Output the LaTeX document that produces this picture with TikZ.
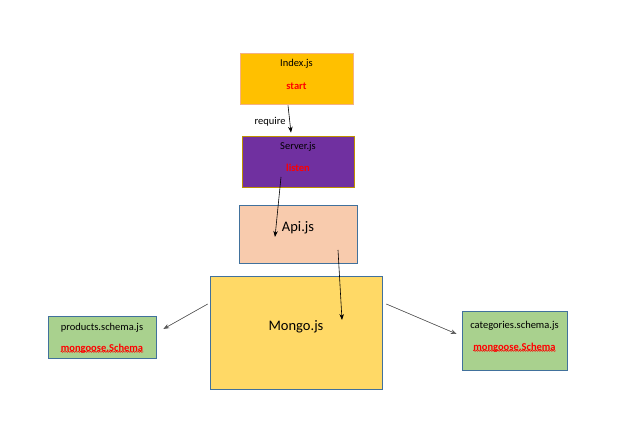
\documentclass[tikz,border=0pt]{standalone}
\usepackage{fontspec}
\setmainfont{Carlito}
\usepackage{tikz}
\usetikzlibrary{arrows.meta,positioning,calc,decorations.pathmorphing}
\definecolor{idxGold}{HTML}{FFC000}
\definecolor{idxEdge}{HTML}{F4B183}
\definecolor{srvPurple}{HTML}{7030A0}
\definecolor{srvEdge}{HTML}{BF9000}
\definecolor{apiPeach}{HTML}{F8CBAD}
\definecolor{mgoYellow}{HTML}{FFD966}
\definecolor{schGreen}{HTML}{A9D18E}
\definecolor{boxBlue}{HTML}{41719C}
\definecolor{txtRed}{HTML}{FF0000}

\begin{document}
\begin{tikzpicture}[
    x=1pt, y=-1pt,
    box/.style={rectangle, draw=boxBlue, line width=0.6pt, inner sep=0pt},
    label/.style={inner sep=0pt, font=\fontsize{10.5}{12}\selectfont},
    role/.style={label, text=txtRed, font=\fontsize{10.5}{12}\selectfont\bfseries},
    big/.style={inner sep=0pt, font=\fontsize{14.5}{17}\selectfont},
    wave/.style={txtRed, line width=0.5pt, decorate, decoration={snake, amplitude=0.6pt, segment length=2.4pt}},
    arrow/.style={-{Stealth[length=6pt,width=4.5pt]}, line width=0.6pt},
    sidearrow/.style={arrow, draw=black!65, fill=black}
]
    \useasboundingbox (0,0) rectangle (619,443);

    \node[box, fill=idxGold, draw=idxEdge, minimum width=113pt, minimum height=51pt] (index) at (296.5,78.5) {};
    \node[label] (indexname) at (296.5,64) {Index.js};
    \node[role] (indexrole) at (296.5,86) {start};

    \node[box, fill=srvPurple, draw=srvEdge, minimum width=112pt, minimum height=51pt] (server) at (298,161.5) {};
    \node[label] (servername) at (298,147) {Server.js};
    \node[role] (serverrole) at (298,168) {listen};

    \node[box, fill=apiPeach, minimum width=118pt, minimum height=58pt] (api) at (298,234) {};
    \node[big] (apiname) at (298,228) {Api.js};

    \node[box, fill=mgoYellow, minimum width=172pt, minimum height=113pt] (mongo) at (296,332.5) {};
    \node[big] (mongoname) at (296,327) {Mongo.js};

    % Schemas
    \node[box, fill=schGreen, minimum width=108pt, minimum height=42pt] (products) at (102,337) {};
    \node[label] (prodname) at (102,328) {products.schema.js};
    \node[role] (prodrole) at (102,349) {mongoose.Schema};
    \draw[wave] ([yshift=2pt]prodrole.south west) -- ([yshift=2pt]prodrole.south east);

    \node[box, fill=schGreen, minimum width=105pt, minimum height=59pt] (categories) at (514.5,340.5) {};
    \node[label] (catname) at (514.5,326) {categories.schema.js};
    \node[role] (catrole) at (514.5,348) {mongoose.Schema};
    \draw[wave] ([yshift=2pt]catrole.south west) -- ([yshift=2pt]catrole.south east);

    \draw[arrow] ([shift={(-8.5,1)}]index.south) -- ([shift={(-7,-3)}]server.north)
        node[pos=0.6, left=4pt, label] {require};
    \draw[arrow] ([shift={(-17,15.5)}]server.center) -- ([shift={(-23,3)}]api.center);
    \draw[arrow] ([shift={(40,16)}]api.center) -- ([shift={(46,-12.5)}]mongo.center);
    \draw[sidearrow] ([shift={(-2,-28.5)}]mongo.west) -- ([shift={(7,-8)}]products.east);
    \draw[sidearrow] ([shift={(4,-28.5)}]mongo.east) -- ([shift={(-5,-6.5)}]categories.west);
\end{tikzpicture}
\end{document}
